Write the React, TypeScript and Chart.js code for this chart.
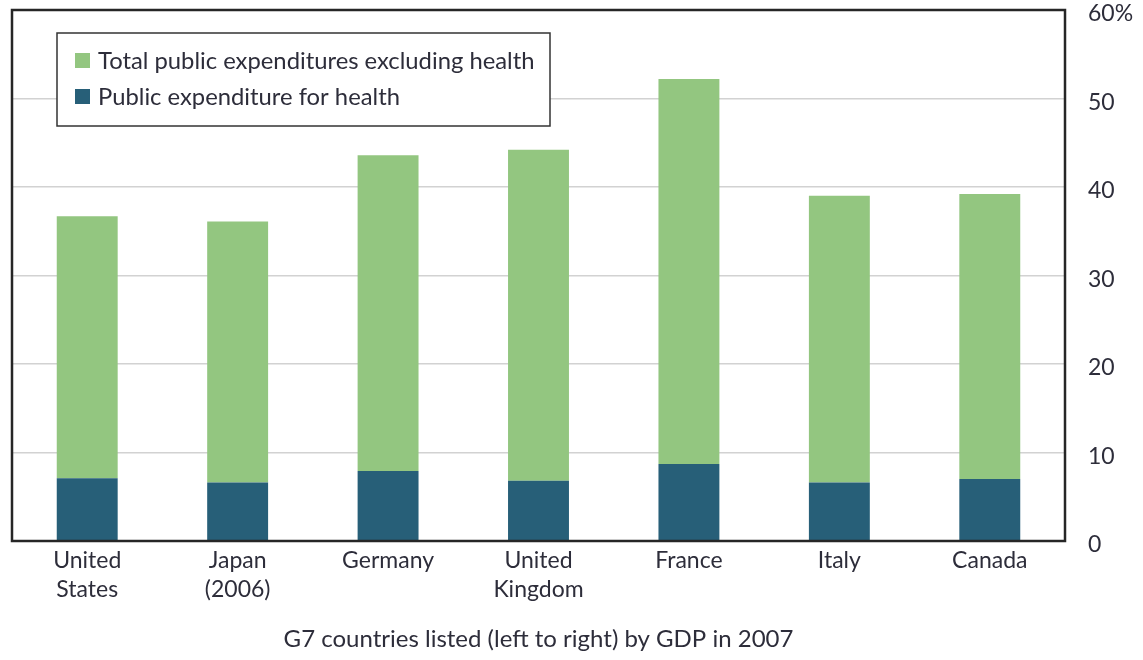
import React, { useEffect, useRef } from "react";
import { Chart, registerables } from "chart.js";

Chart.register(...registerables);

const categories: (string | string[])[] = [
  ["United", "States"],
  ["Japan", "(2006)"],
  "Germany",
  ["United", "Kingdom"],
  "France",
  "Italy",
  "Canada",
];
const healthValues = [7.1, 6.6, 7.9, 6.8, 8.7, 6.6, 7.0];
const excludingHealthValues = [29.6, 29.5, 35.7, 37.4, 43.5, 32.4, 32.2];
const yTicks = [0, 10, 20, 30, 40, 50, 60];
const seriesLabels = {
  excl: "Total public expenditures excluding health",
  health: "Public expenditure for health",
};
const xTitle = "G7 countries listed (left to right) by GDP in 2007";

const GREEN = "#93c680";
const TEAL = "#275f78";
const TEXT = "#2d2d3a";
const FONT = "Lato, 'DejaVu Sans', sans-serif";

const framePlugin = {
  id: "frameAndLegend",
  afterDraw(chart: any) {
    const { ctx, chartArea } = chart;
    ctx.save();
    ctx.strokeStyle = "#262626";
    ctx.lineWidth = 2.5;
    ctx.strokeRect(
      chartArea.left,
      chartArea.top,
      chartArea.right - chartArea.left,
      chartArea.bottom - chartArea.top
    );
    const bx = chartArea.left + 45;
    const by = chartArea.top + 23;
    const bw = 493;
    const bh = 93;
    ctx.fillStyle = "#ffffff";
    ctx.fillRect(bx, by, bw, bh);
    ctx.strokeStyle = "#333333";
    ctx.lineWidth = 1.5;
    ctx.strokeRect(bx, by, bw, bh);
    const items = [...chart.data.datasets].reverse();
    ctx.font = `23.8px ${FONT}`;
    ctx.textBaseline = "middle";
    ctx.textAlign = "left";
    items.forEach((ds: any, i: number) => {
      const cy = by + 28 + i * 36;
      ctx.fillStyle = ds.backgroundColor;
      ctx.fillRect(bx + 18, cy - 8, 15, 15);
      ctx.fillStyle = TEXT;
      ctx.fillText(ds.label, bx + 41, cy);
    });
    ctx.restore();
  },
};

export default function App() {
  const ref = useRef<HTMLCanvasElement | null>(null);

  useEffect(() => {
    if (!ref.current) return;
    const chart = new Chart(ref.current, {
      type: "bar",
      data: {
        labels: categories,
        datasets: [
          {
            label: seriesLabels.health,
            data: healthValues,
            backgroundColor: TEAL,
            borderWidth: 0,
          },
          {
            label: seriesLabels.excl,
            data: excludingHealthValues,
            backgroundColor: GREEN,
            borderWidth: 0,
          },
        ],
      },
      options: {
        animation: false,
        responsive: false,
        devicePixelRatio: 1,
        layout: { padding: { left: 12, top: 10, right: 0, bottom: 6 } },
        plugins: {
          legend: { display: false },
          tooltip: { enabled: false },
        },
        datasets: {
          bar: { categoryPercentage: 1, barPercentage: 0.405 },
        },
        scales: {
          x: {
            stacked: true,
            grid: { display: false, drawTicks: false },
            border: { display: false },
            ticks: {
              color: TEXT,
              font: { family: FONT, size: 23, lineHeight: 1.22 },
              padding: 6,
              maxRotation: 0,
              autoSkip: false,
            },
            title: {
              display: true,
              text: xTitle,
              color: TEXT,
              font: { family: FONT, size: 24 },
              padding: 0,
            },
            afterFit(scale: any) {
              scale.height = 113;
              scale.paddingLeft = 0;
              scale.paddingRight = 0;
            },
          },
          y: {
            stacked: true,
            position: "right",
            min: 0,
            max: 60,
            afterBuildTicks(scale: any) {
              scale.ticks = yTicks.map((v) => ({ value: v }));
            },
            grid: {
              color: "#d2d2d2",
              lineWidth: 1.5,
              drawTicks: false,
            },
            border: { display: false },
            ticks: {
              color: TEXT,
              font: { family: FONT, size: 23 },
              padding: 23,
              labelOffset: 4,
              crossAlign: "near",
              callback: (v: any) => (v === 60 ? "60%" : String(v)),
            },
            afterFit(scale: any) {
              scale.width = 78;
              scale.paddingTop = 0;
              scale.paddingBottom = 0;
            },
          },
        },
      },
      plugins: [framePlugin],
    });
    return () => chart.destroy();
  }, []);

  return (
    <div style={{ position: "fixed", left: 0, top: 0, width: 1143, height: 660, background: "#fff" }}>
      <canvas ref={ref} width={1143} height={660} />
    </div>
  );
}
